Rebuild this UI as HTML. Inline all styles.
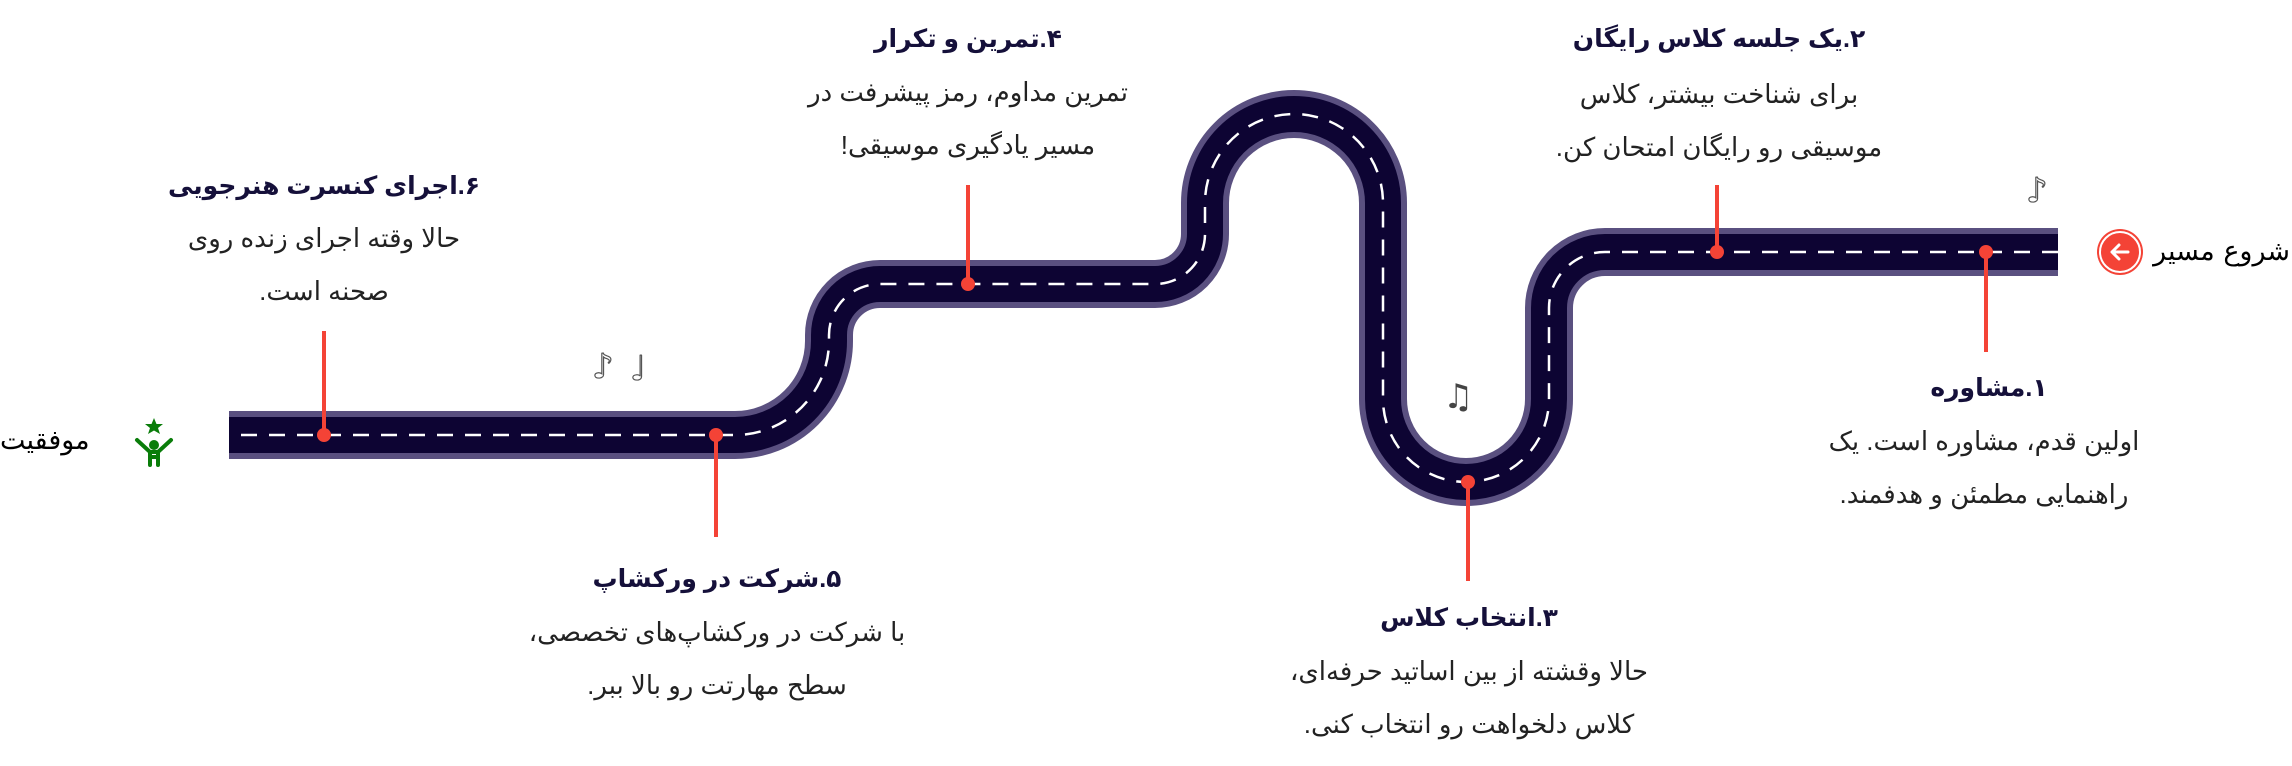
<!DOCTYPE html>
<html><head><meta charset="utf-8">
<style>
html,body{margin:0;padding:0;background:#fff;}
body{width:2292px;height:766px;position:relative;overflow:hidden;font-family:"Liberation Sans","Noto Sans CJK SC","DejaVu Sans",sans-serif;}
.t{position:absolute;width:520px;text-align:center;direction:rtl;color:#15103a;font-weight:bold;font-size:25px;line-height:30px;white-space:nowrap;}
.b{position:absolute;width:520px;text-align:center;direction:rtl;color:#222;font-size:26px;line-height:53px;white-space:nowrap;}
.lbl{position:absolute;direction:rtl;color:#000;font-size:27px;line-height:40px;font-family:"DejaVu Sans","Noto Sans CJK SC",sans-serif;white-space:nowrap;}
</style></head><body>
<svg width="2292" height="766" style="position:absolute;left:0;top:0">
<g fill="none">
<path d="M 2058 252 H 1605 A 56 56 0 0 0 1549 308 V 399 A 83 83 0 0 1 1383 399 V 203 A 89 89 0 0 0 1205 203 V 234 A 50 50 0 0 1 1155 284 H 880 A 51 51 0 0 0 829 335 V 341 A 94 94 0 0 1 735 435 H 229" stroke="#5a5080" stroke-width="48"/>
<path d="M 2058 252 H 1605 A 56 56 0 0 0 1549 308 V 399 A 83 83 0 0 1 1383 399 V 203 A 89 89 0 0 0 1205 203 V 234 A 50 50 0 0 1 1155 284 H 880 A 51 51 0 0 0 829 335 V 341 A 94 94 0 0 1 735 435 H 229" stroke="#0d0433" stroke-width="36"/>
<path d="M 2058 252 H 1605 A 56 56 0 0 0 1549 308 V 399 A 83 83 0 0 1 1383 399 V 203 A 89 89 0 0 0 1205 203 V 234 A 50 50 0 0 1 1155 284 H 880 A 51 51 0 0 0 829 335 V 341 A 94 94 0 0 1 735 435 H 229" stroke="#fff" stroke-width="2.5" stroke-dasharray="16 12"/>
</g>
<g stroke="#f44336" stroke-width="4">
<line x1="1986" y1="252" x2="1986" y2="352"/>
<line x1="1717" y1="185" x2="1717" y2="252"/>
<line x1="1468" y1="482" x2="1468" y2="581"/>
<line x1="968" y1="185" x2="968" y2="284"/>
<line x1="716" y1="435" x2="716" y2="537"/>
<line x1="324" y1="331" x2="324" y2="435"/>
</g>
<g fill="#f44336">
<circle cx="1986" cy="252" r="7"/><circle cx="1717" cy="252" r="7"/><circle cx="1468" cy="482" r="7"/>
<circle cx="968" cy="284" r="7"/><circle cx="716" cy="435" r="7"/><circle cx="324" cy="435" r="7"/>
</g>
<circle cx="2120" cy="252" r="23" fill="#f44336"/>
<circle cx="2120" cy="252" r="20" fill="none" stroke="#fff" stroke-width="2"/>
<path d="M2128 252 H2112 M2119 245 L2112 252 L2119 259" stroke="#fff" stroke-width="3" fill="none" stroke-linecap="round" stroke-linejoin="round"/>
<g fill="#0a7d0a" stroke="#0a7d0a">
<polygon points="154,418 156.5,424 163,424 158,428 160,434 154,430.5 148,434 150,428 145,424 151.5,424" stroke="none"/>
<circle cx="154" cy="445" r="5" stroke="none"/>
<path d="M137 440 L150 452 H158 L171 440 M150 452 V465 M158 452 V465 M150 457 H158" fill="none" stroke-width="4" stroke-linecap="round"/>
</g>
<g fill="#444" font-size="34" font-family="DejaVu Sans">
<text x="2026" y="202" fill="none" stroke="#555" stroke-width="1.2">♪</text>
<text x="1443" y="408">♫</text>
<text x="592" y="378" fill="none" stroke="#555" stroke-width="1.2">♪</text>
<text x="630" y="380" fill="none" stroke="#555" stroke-width="1.2">♩</text>
</g>
</svg>

<div class="lbl" style="right:2px;top:232px;">شروع مسیر</div>
<div class="lbl" style="left:0px;top:421px;">موفقیت</div>

<div class="t" style="left:1729px;top:373px;">۱.مشاوره</div>
<div class="b" style="left:1724px;top:415px;">اولین قدم، مشاوره است. یک<br>راهنمایی مطمئن و هدفمند.</div>

<div class="t" style="left:1459px;top:24px;">۲.یک جلسه کلاس رایگان</div>
<div class="b" style="left:1459px;top:68px;">برای شناخت بیشتر، کلاس<br>موسیقی رو رایگان امتحان کن.</div>

<div class="t" style="left:1209px;top:603px;">۳.انتخاب کلاس</div>
<div class="b" style="left:1209px;top:645px;">حالا وقشته از بین اساتید حرفه‌ای،<br>کلاس دلخواهت رو انتخاب کنی.</div>

<div class="t" style="left:708px;top:24px;">۴.تمرین و تکرار</div>
<div class="b" style="left:708px;top:66px;">تمرین مداوم، رمز پیشرفت در<br>مسیر یادگیری موسیقی!</div>

<div class="t" style="left:457px;top:564px;">۵.شرکت در ورکشاپ</div>
<div class="b" style="left:457px;top:606px;">با شرکت در ورکشاپ‌های تخصصی،<br>سطح مهارتت رو بالا ببر.</div>

<div class="t" style="left:64px;top:171px;">۶.اجرای کنسرت هنرجویی</div>
<div class="b" style="left:64px;top:212px;">حالا وقته اجرای زنده روی<br>صحنه است.</div>
</body></html>
